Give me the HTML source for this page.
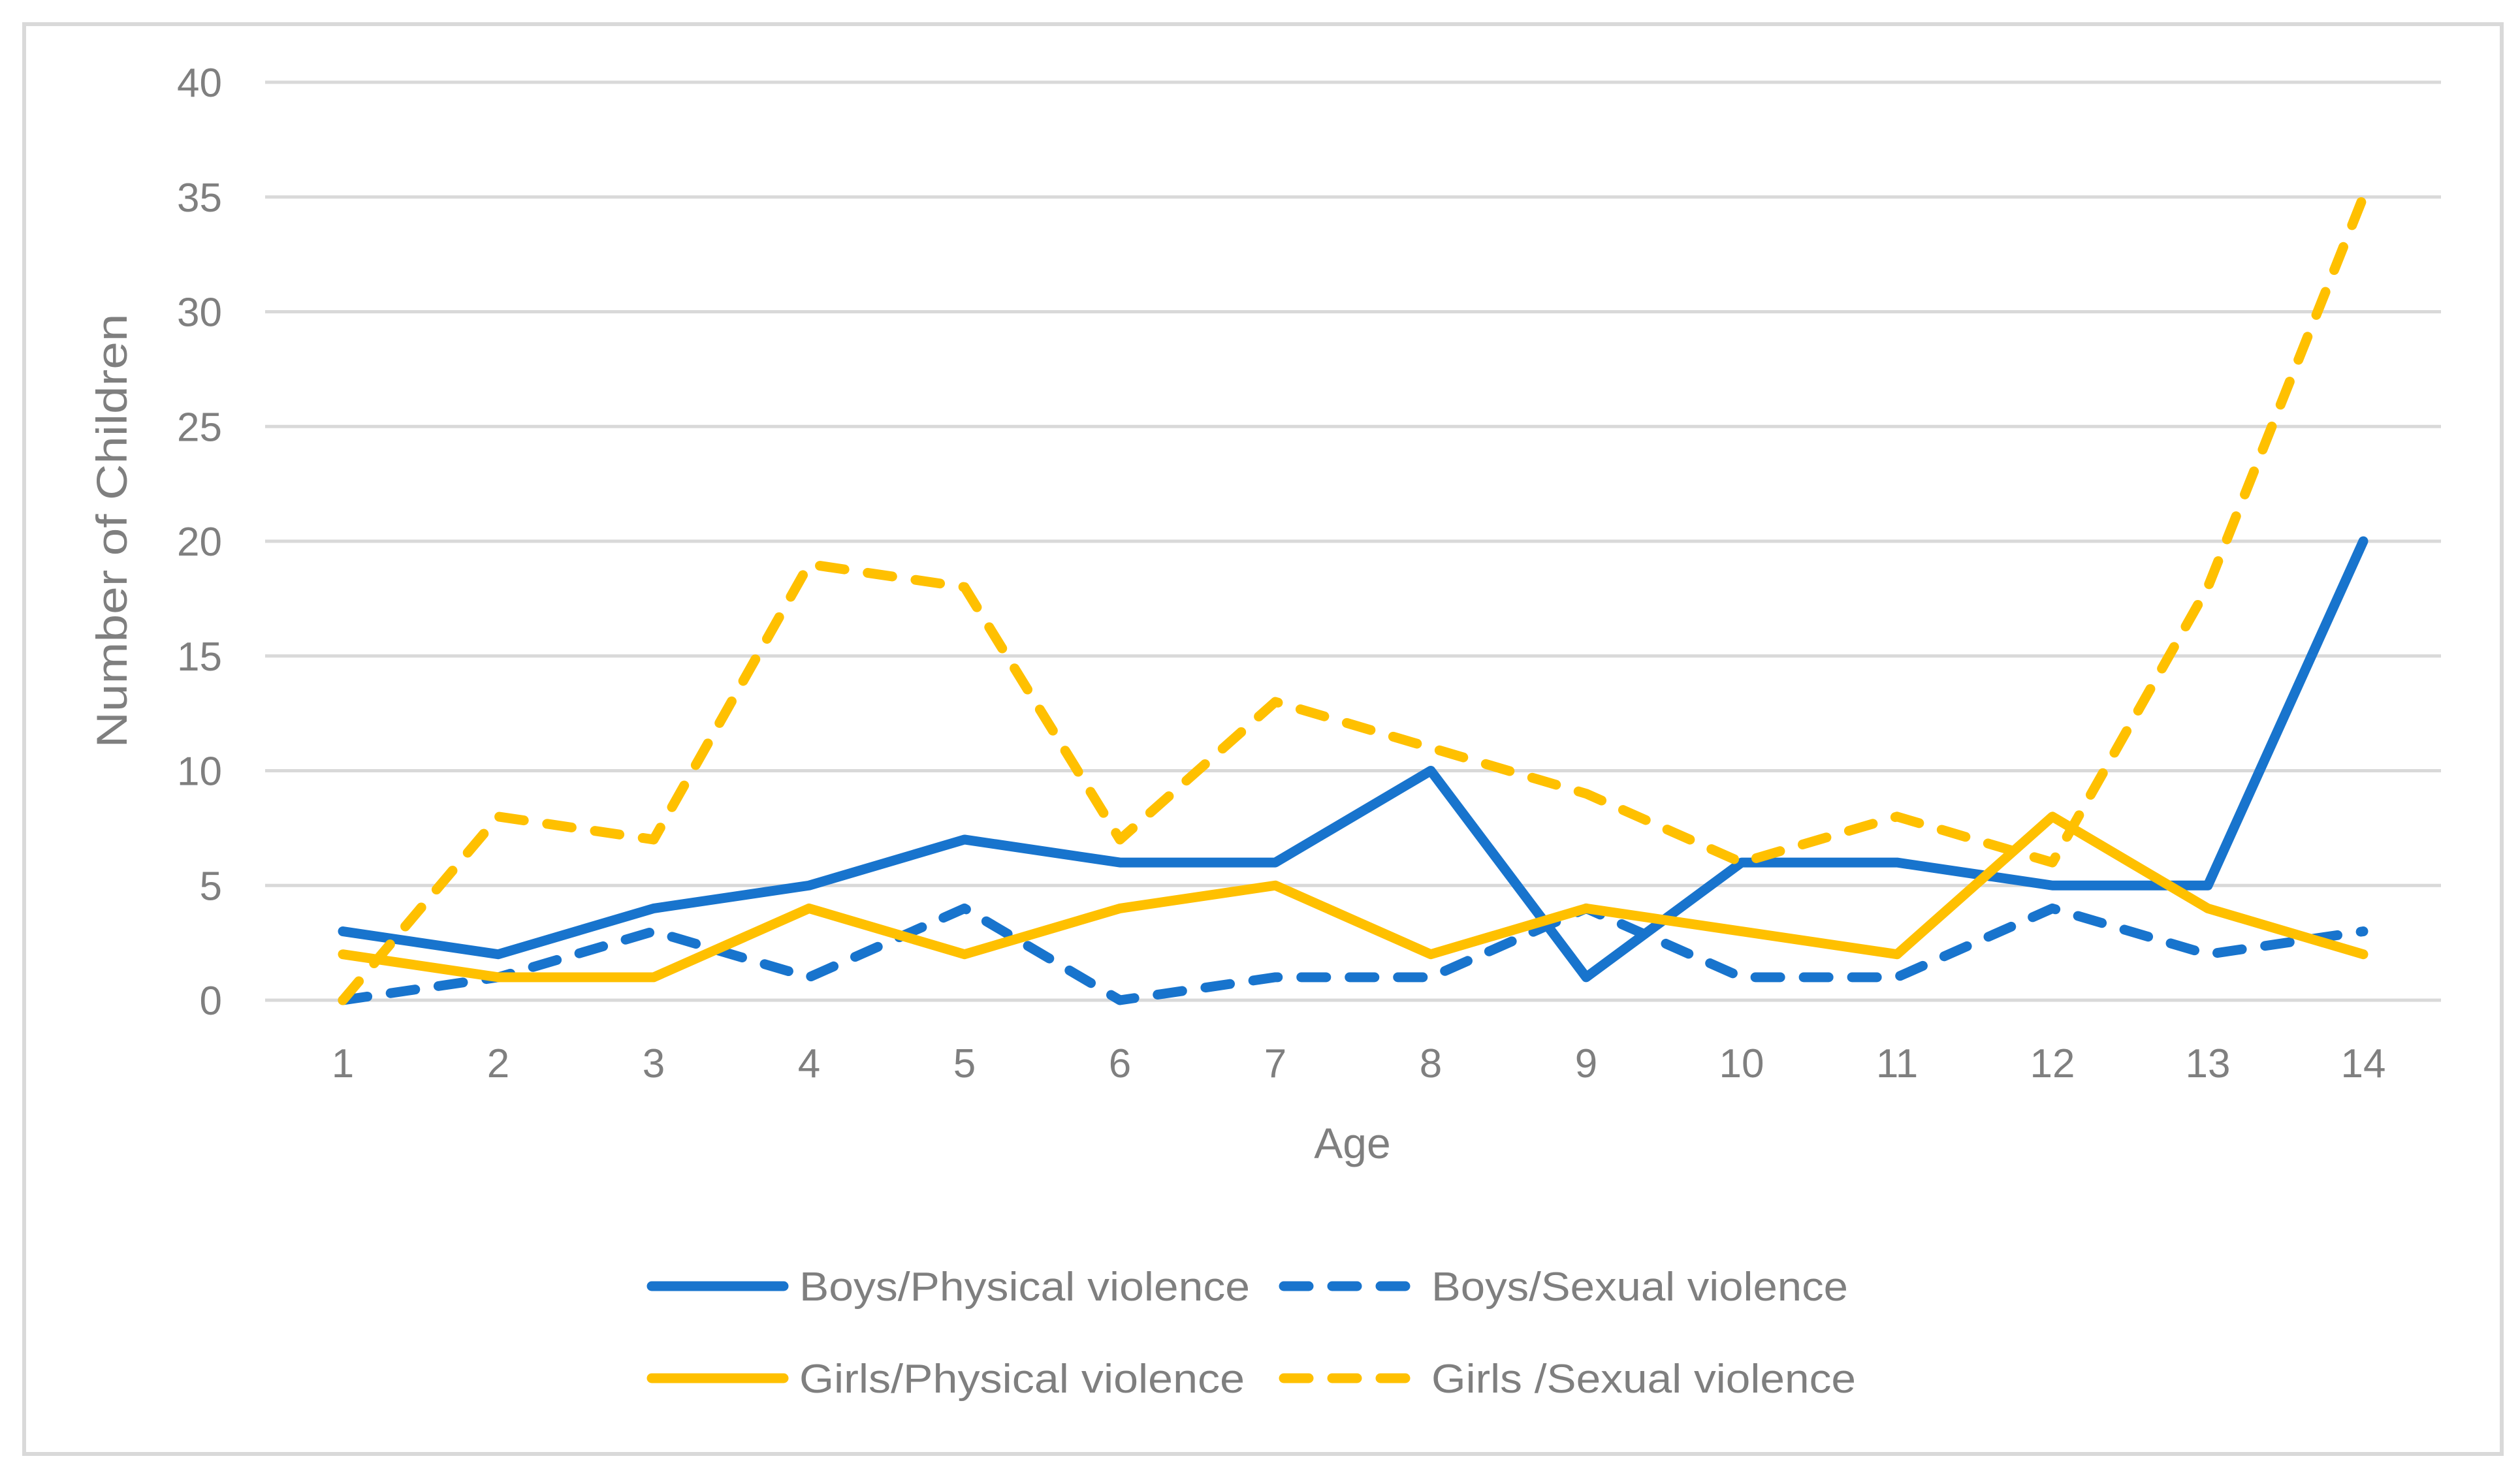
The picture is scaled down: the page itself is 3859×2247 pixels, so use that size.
<!DOCTYPE html>
<html><head><meta charset="utf-8"><style>
html,body{margin:0;padding:0;background:#fff;}
svg{display:block;font-family:"Liberation Sans",sans-serif;}
</style></head><body>
<svg id="chart" width="3859" height="2247" viewBox="0 0 3859 2247">
<rect x="37" y="37" width="3794" height="2190" fill="#fff" stroke="#d9d9d9" stroke-width="6"/>
<g id="grid"></g><g id="xlabels"></g><g id="series"></g>
<text x="0" y="0" transform="translate(194,813) rotate(-90)" text-anchor="middle" font-size="66" fill="#7f7f7f" textLength="665" lengthAdjust="spacingAndGlyphs">Number of Children</text>
<text x="2071" y="1774" text-anchor="middle" font-size="66" fill="#7f7f7f">Age</text>
<g id="legend"></g>
</svg>
<script>
const categories=[1,2,3,4,5,6,7,8,9,10,11,12,13,14];
const yTicks=[0,5,10,15,20,25,30,35,40];
const boysPhysical=[3,2,4,5,7,6,6,10,1,6,6,5,5,20];
const boysSexual=[0,1,3,1,4,0,1,1,4,1,1,4,2,3];
const girlsPhysical=[2,1,1,4,2,4,5,2,4,3,2,8,4,2];
const girlsSexual=[0,8,7,19,18,7,13,11,9,6,8,6,18,35];
const seriesNames=["Boys/Physical violence","Boys/Sexual violence","Girls/Physical violence","Girls /Sexual violence"];
const legendWidths=[690,638,682,650];
const NS="http://www.w3.org/2000/svg";
const X0=406,X1=3738,Y0=1532,Y1=126,YMAX=40;
const band=(X1-X0)/categories.length;
function xs(i){return X0+band*(i+0.5);}
function ys(v){return Y0-(v/YMAX)*(Y0-Y1);}
function mk(t,a,p){const e=document.createElementNS(NS,t);for(const k in a)e.setAttribute(k,a[k]);p.appendChild(e);return e;}
const grid=document.getElementById('grid');
yTicks.forEach(v=>{
 const l=mk('line',{x1:X0,x2:X1,y1:ys(v),y2:ys(v),stroke:'#d9d9d9','stroke-width':5},grid);
 
 
 const t=mk('text',{x:340,y:ys(v)+22,'text-anchor':'end','font-size':62,fill:'#7f7f7f'},grid);
 t.textContent=v;
 
 
});
const xl=document.getElementById('xlabels');
categories.forEach((c,i)=>{
 const t=mk('text',{x:xs(i),y:1650,'text-anchor':'middle','font-size':62,fill:'#7f7f7f'},xl);
 t.textContent=c;
 
 
});
const styles=[
 {d:boysPhysical,c:'#1874cd',dash:null},
 {d:boysSexual,c:'#1874cd',dash:'38 36'},
 {d:girlsPhysical,c:'#ffc000',dash:null},
 {d:girlsSexual,c:'#ffc000',dash:'38 36'}];
const sg=document.getElementById('series');
styles.forEach((s,k)=>{
 const pts=s.d.map((v,i)=>xs(i)+','+ys(v)).join(' ');
 const a={points:pts,fill:'none',stroke:s.c,'stroke-width':15,'stroke-linecap':'round','stroke-linejoin':'round'};
 if(s.dash)a['stroke-dasharray']=s.dash;
 const p=mk('polyline',a,sg);
 
 
});
const lg=document.getElementById('legend');
const lpos=[[990,1970],[1958,1970],[990,2111],[1958,2111]];
styles.forEach((s,k)=>{
 const [x,y]=lpos[k];
 const a={x1:x+8,x2:x+210,y1:y,y2:y,stroke:s.c,'stroke-width':15,'stroke-linecap':'round'};
 if(s.dash)a['stroke-dasharray']=s.dash;
 const l=mk('line',a,lg);
 
 
 const t=mk('text',{x:x+234,y:y+22,'font-size':62,fill:'#7f7f7f',textLength:legendWidths[k],lengthAdjust:'spacingAndGlyphs'},lg);
 t.textContent=seriesNames[k];
 
 
});
</script>
</body></html>
